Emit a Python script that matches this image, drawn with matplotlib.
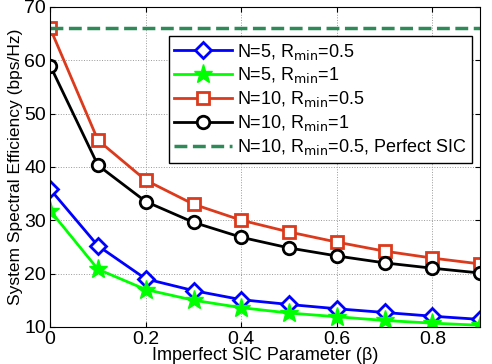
import matplotlib
matplotlib.use("Agg")
import matplotlib.pyplot as plt

beta = [0, 0.1, 0.2, 0.3, 0.4, 0.5, 0.6, 0.7, 0.8, 0.9]
n5_r05 = [35.8, 25.2, 19.0, 16.8, 15.1, 14.2, 13.4, 12.7, 12.0, 11.4]
n5_r1 = [31.8, 20.8, 17.0, 15.0, 13.6, 12.6, 11.9, 11.2, 10.7, 10.3]
n10_r05 = [66.0, 45.0, 37.5, 33.0, 30.0, 27.8, 25.9, 24.2, 22.9, 21.8]
n10_r1 = [59.0, 40.3, 33.5, 29.6, 26.8, 24.8, 23.3, 22.0, 21.0, 20.1]
perfect_sic = 66.0

plt.rcParams['font.family'] = ['Liberation Sans', 'DejaVu Sans']

fig = plt.figure(figsize=(4.92, 3.64), dpi=100)
ax = fig.add_axes([0.102, 0.102, 0.874, 0.879])

ax.plot(beta, n5_r05, '-D', color='#0000ff', lw=2, ms=8, mfc='white', mew=2,
        label=r'N=5, R$_{\rm min}$=0.5')
ax.plot(beta, n5_r1, '-*', color='#00ff00', lw=2, ms=14, mew=1,
        label=r'N=5, R$_{\rm min}$=1')
ax.plot(beta, n10_r05, '-s', color='#dc3a1c', lw=2, ms=8, mfc='white', mew=2,
        label=r'N=10, R$_{\rm min}$=0.5')
ax.plot(beta, n10_r1, '-o', color='black', lw=2, ms=9, mfc='white', mew=2,
        label=r'N=10, R$_{\rm min}$=1')
ax.plot([beta[0], beta[-1]], [perfect_sic, perfect_sic], '--', color='#2e8b57', lw=2.5,
        label=r'N=10, R$_{\rm min}$=0.5, Perfect SIC')

ax.set_xlim(0, 0.9)
ax.set_ylim(10, 70)
ax.set_xticks([0, 0.2, 0.4, 0.6, 0.8])
ax.set_xticklabels(['0', '0.2', '0.4', '0.6', '0.8'])
ax.set_yticks(range(10, 71, 10))
ax.tick_params(direction='in', labelsize=14, top=True, right=True, pad=3)
ax.grid(True, linestyle=':', color='#999999', lw=0.7)
ax.set_xlabel(u'Imperfect SIC Parameter (\u03b2)', fontsize=13, labelpad=-1)
ax.set_ylabel('System Spectral Efficiency (bps/Hz)', fontsize=12.5, labelpad=1)

leg = ax.legend(loc='upper right', bbox_to_anchor=(1.003, 0.937), fontsize=13,
                fancybox=False, framealpha=1, edgecolor='black',
                handlelength=3.2, borderpad=0.3, labelspacing=0.22, handletextpad=0.3)
leg.get_frame().set_linewidth(1)

fig.savefig('out.png', dpi=100)
